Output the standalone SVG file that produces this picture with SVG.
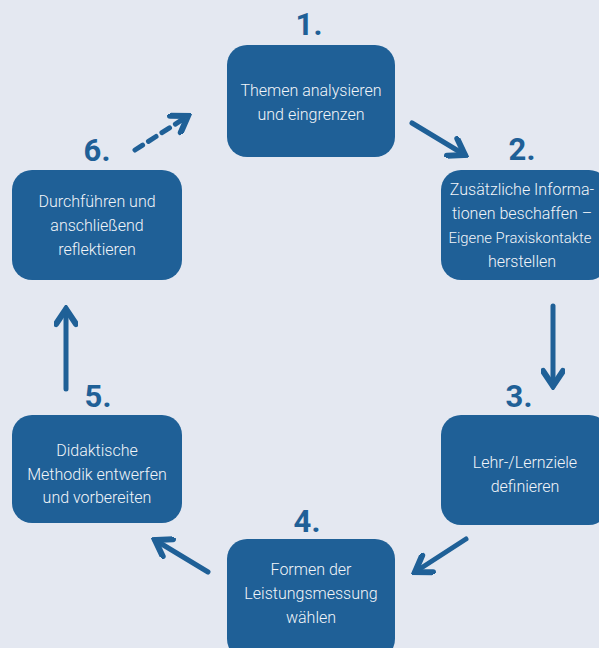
<svg xmlns="http://www.w3.org/2000/svg" width="599" height="648" viewBox="0 0 599 648">
<defs>
<style>
.box{fill:#1f6097}
.t{font-family:Roboto,"Open Sans","Liberation Sans",sans-serif;font-weight:300;font-size:16px;fill:#f2f5f9;text-anchor:middle}
.n{font-family:Roboto,"Open Sans","Liberation Sans",sans-serif;font-weight:700;font-size:31px;fill:#1f6097;text-anchor:middle}
.c{fill:none;stroke:#1f6097;stroke-width:5;stroke-linecap:round;stroke-linejoin:round}
</style>
<marker id="ah" markerUnits="userSpaceOnUse" viewBox="-20 -12 24 24" refX="0" refY="0" markerWidth="24" markerHeight="24" orient="auto">
<path d="M-15,-10 L0,0 L-15,10" fill="none" stroke="#1f6097" stroke-width="6" stroke-linejoin="miter" stroke-linecap="round"/>
</marker>
</defs>
<rect width="599" height="648" fill="#e4e8f1"/>
<g id="node1"><rect class="box" x="227" y="45" width="168" height="112" rx="20"/><text class="t" x="311" y="96">Themen analysieren</text><text class="t" x="311" y="120">und eingrenzen</text><text class="n" x="309" y="35">1.</text></g>
<g id="node2"><rect class="box" x="441" y="170" width="168" height="110" rx="20"/><text class="t" x="522" y="195">Zusätzliche Informa-</text><text class="t" x="522" y="219">tionen beschaffen –</text><text class="t" x="520" y="243" style="font-size:14.8px">Eigene Praxiskontakte</text><text class="t" x="522" y="267">herstellen</text><text class="n" x="522" y="160">2.</text></g>
<g id="node3"><rect class="box" x="441" y="415" width="168" height="110" rx="20"/><text class="t" x="525" y="468">Lehr-/Lernziele</text><text class="t" x="525" y="492">definieren</text><text class="n" x="519" y="407">3.</text></g>
<g id="node4"><rect class="box" x="227" y="539" width="168" height="120" rx="20"/><text class="t" x="311" y="575">Formen der</text><text class="t" x="311" y="599">Leistungsmessung</text><text class="t" x="311" y="623">wählen</text><text class="n" x="307" y="532">4.</text></g>
<g id="node5"><rect class="box" x="12" y="415" width="170" height="108" rx="20"/><text class="t" x="97" y="456">Didaktische</text><text class="t" x="97" y="480">Methodik entwerfen</text><text class="t" x="97" y="503">und vorbereiten</text><text class="n" x="98" y="407">5.</text></g>
<g id="node6"><rect class="box" x="12" y="170" width="170" height="110" rx="20"/><text class="t" x="97" y="207">Durchführen und</text><text class="t" x="97" y="231">anschließend</text><text class="t" x="97" y="255">reflektieren</text><text class="n" x="97" y="161">6.</text></g>
<g id="connectors">
<path class="c" d="M412,123 L465,155" marker-end="url(#ah)"/>
<path class="c" d="M553,306 L553,386" marker-end="url(#ah)"/>
<path class="c" d="M466,539 L415,572" marker-end="url(#ah)"/>
<path class="c" d="M208,572 L155,540" marker-end="url(#ah)"/>
<path class="c" d="M66,389 L66,309" marker-end="url(#ah)"/>
<path class="c" d="M135,150 L188,116" stroke-dasharray="9 7" stroke-linecap="butt" marker-end="url(#ah)"/>
</g>
</svg>
